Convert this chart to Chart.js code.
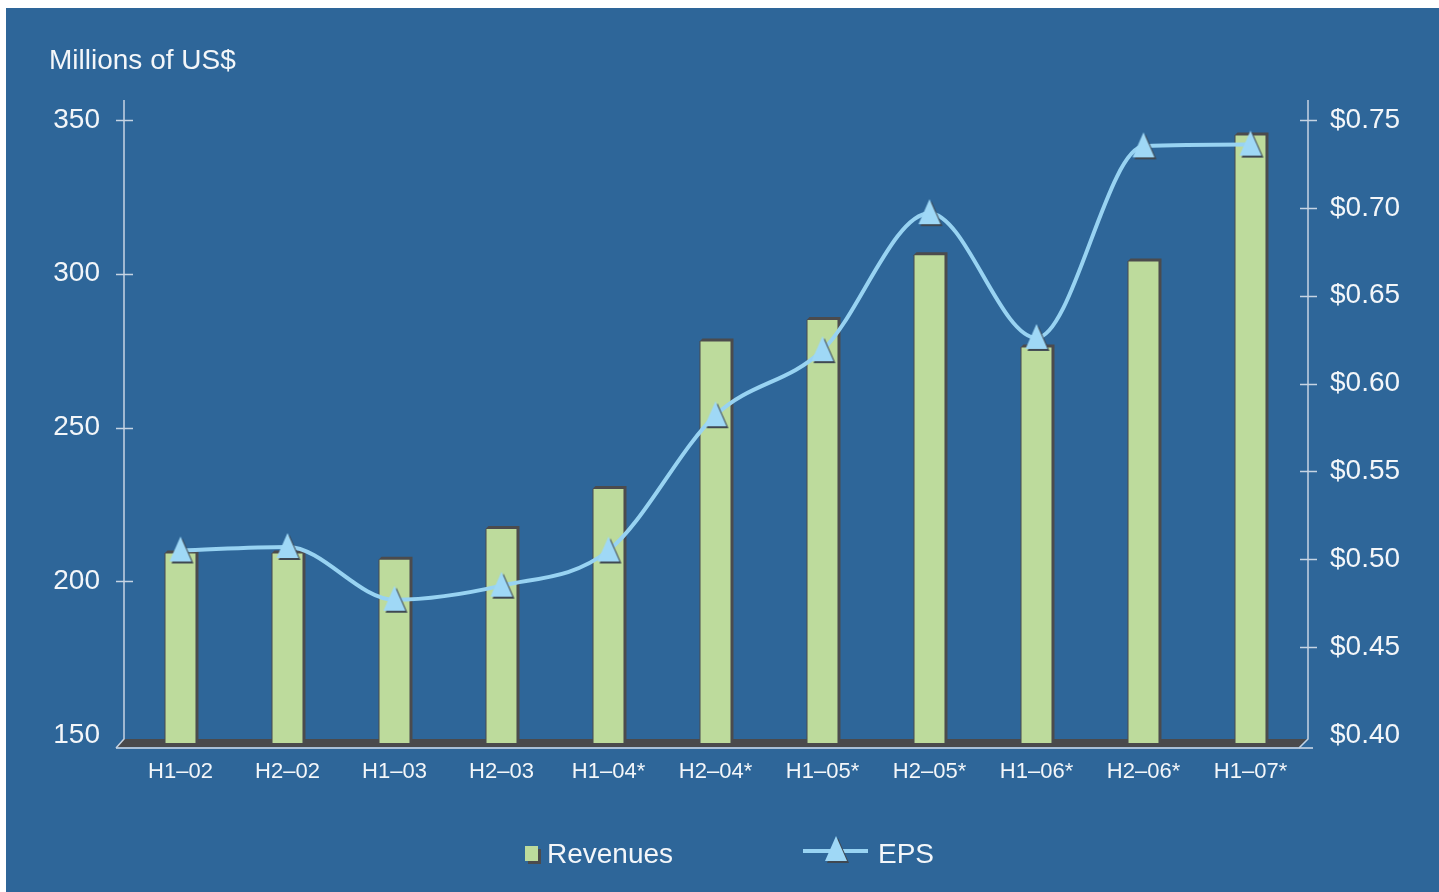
<!DOCTYPE html>
<html>
<head>
<meta charset="utf-8">
<script src="https://cdn.jsdelivr.net/npm/chart.js@4.4.1/dist/chart.umd.min.js"></script>
<style>
html,body{margin:0;padding:0;background:#fff;}
#wrap{width:1439px;height:892px;position:relative;}
canvas{display:block;}
</style>
</head>
<body>
<div id="wrap"><canvas id="c" width="1439" height="892"></canvas></div>
<script>
// ---- data ----
const categories = ['H1–02','H2–02','H1–03','H2–03','H1–04*','H2–04*','H1–05*','H2–05*','H1–06*','H2–06*','H1–07*'];
const revenues = [209, 209, 207, 217, 230, 278, 285, 306, 276, 304, 345];
const eps = [0.505, 0.507, 0.477, 0.485, 0.505, 0.582, 0.619, 0.697, 0.626, 0.735, 0.736];
const revenueTicks = [150, 200, 250, 300, 350];
const epsTicks = [0.40, 0.45, 0.50, 0.55, 0.60, 0.65, 0.70, 0.75];
const axisTitle = 'Millions of US$';

// ---- styles ----
const BLUE = '#2e6699';
const GREEN = '#bddb9c';
const DARK = '#4b4b4d';
const LINE = '#98d3f2';
const TRI = '#9fd8f6';
const TEXT = '#f3f6f9';
const FONT = '"Liberation Sans", Arial, Helvetica, sans-serif';
const FLOOR_FRAC = 8 / 615; // floor depth below the lowest tick, as fraction of tick span

function makeTri() {
  const c = document.createElement('canvas');
  c.width = 32; c.height = 34;
  const g = c.getContext('2d');
  const tri = (dx, dy, col) => {
    g.fillStyle = col;
    g.beginPath();
    g.moveTo(16 + dx, 3 + dy);
    g.lineTo(27 + dx, 28 + dy);
    g.lineTo(5 + dx, 28 + dy);
    g.closePath();
    g.fill();
  };
  tri(2, 2, '#3f4852');
  tri(0, 0, TRI);
  return c;
}
const triImg = makeTri();

const bgPlugin = {
  id: 'bg',
  beforeDraw(chart) {
    const {ctx, width, height} = chart;
    ctx.save();
    ctx.fillStyle = '#ffffff';
    ctx.fillRect(0, 0, width, height);
    ctx.fillStyle = BLUE;
    ctx.fillRect(6, 8, width - 6, height - 8);
    ctx.restore();
  }
};

const framePlugin = {
  id: 'frame',
  beforeDatasetsDraw(chart) {
    const {ctx, chartArea: a, scales} = chart;
    const L = a.left - 3, R = a.right + 4, B = a.bottom, T = a.top - 20;
    ctx.save();
    // floor
    ctx.fillStyle = '#4a4a4c';
    ctx.beginPath();
    ctx.moveTo(L, B - 4);
    ctx.lineTo(R - 1, B - 4);
    ctx.lineTo(R - 9, B + 4);
    ctx.lineTo(L - 8, B + 4);
    ctx.closePath();
    ctx.fill();
    // baseline
    ctx.strokeStyle = '#a9c0d8';
    ctx.lineWidth = 2;
    ctx.beginPath();
    ctx.moveTo(L - 8, B + 5);
    ctx.lineTo(R + 5, B + 5);
    ctx.stroke();
    // axis lines
    ctx.strokeStyle = '#c6d4e3';
    ctx.lineWidth = 1.5;
    ctx.beginPath();
    ctx.moveTo(L, T); ctx.lineTo(L, B - 4); ctx.lineTo(L - 8, B + 5);
    ctx.moveTo(R, T); ctx.lineTo(R, B - 4); ctx.lineTo(R - 9, B + 5);
    ctx.stroke();
    // tick crosses
    ctx.beginPath();
    const yl = scales.y, yr = scales.y1;
    yl.ticks.forEach((t, i) => {
      if (i === 0) return;
      const p = Math.round(yl.getPixelForValue(t.value)) + 0.5;
      ctx.moveTo(L - 8, p); ctx.lineTo(L + 9, p);
    });
    yr.ticks.forEach((t, i) => {
      if (i === 0) return;
      const p = Math.round(yr.getPixelForValue(t.value)) + 0.5;
      ctx.moveTo(R - 8, p); ctx.lineTo(R + 9, p);
    });
    ctx.stroke();
    ctx.restore();
  }
};

const depthPlugin = {
  id: 'depth',
  beforeDatasetDraw(chart, args) {
    if (args.meta.type !== 'bar') return;
    const ctx = chart.ctx;
    const bottom = chart.chartArea.bottom;
    ctx.save();
    ctx.fillStyle = DARK;
    args.meta.data.forEach(el => {
      const l = el.x - el.width / 2, r = el.x + el.width / 2, t = el.y;
      const b = Math.min(el.base, bottom);
      ctx.beginPath();
      ctx.moveTo(l - 1, t);
      ctx.lineTo(l + 2, t - 3);
      ctx.lineTo(r + 3, t - 3);
      ctx.lineTo(r + 3, b);
      ctx.lineTo(l - 1, b);
      ctx.closePath();
      ctx.fill();
    });
    ctx.restore();
  }
};

const legendPlugin = {
  id: 'customLegend',
  afterDraw(chart) {
    const ctx = chart.ctx;
    const ds = chart.data.datasets;
    const bar = ds.find(d => d.type === 'bar');
    const line = ds.find(d => d.type === 'line');
    ctx.save();
    ctx.font = '28px ' + FONT;
    ctx.textBaseline = 'alphabetic';
    ctx.textAlign = 'left';
    // Revenues
    ctx.fillStyle = DARK;
    ctx.fillRect(528, 849, 13, 15);
    ctx.fillStyle = GREEN;
    ctx.fillRect(525, 846, 13, 15);
    ctx.fillStyle = TEXT;
    ctx.fillText(bar.label, 547, 863);
    // EPS
    ctx.strokeStyle = LINE;
    ctx.lineWidth = 4;
    ctx.beginPath();
    ctx.moveTo(803, 851); ctx.lineTo(868, 851);
    ctx.stroke();
    ctx.drawImage(triImg, 836 - triImg.width / 2, 850 - triImg.height / 2);
    ctx.fillStyle = TEXT;
    ctx.fillText(line.label, 878, 863);
    ctx.restore();
  }
};

const revMin = revenueTicks[0] - (revenueTicks[revenueTicks.length - 1] - revenueTicks[0]) * FLOOR_FRAC;
const epsMin = epsTicks[0] - (epsTicks[epsTicks.length - 1] - epsTicks[0]) * FLOOR_FRAC;

new Chart(document.getElementById('c'), {
  data: {
    labels: categories,
    datasets: [
      {
        type: 'line',
        label: 'EPS',
        data: eps,
        yAxisID: 'y1',
        order: 0,
        borderColor: LINE,
        borderWidth: 4,
        cubicInterpolationMode: 'monotone',
        fill: false,
        pointStyle: triImg,
        pointRadius: 12,
        pointHoverRadius: 12
      },
      {
        type: 'bar',
        label: 'Revenues',
        data: revenues,
        yAxisID: 'y',
        order: 1,
        backgroundColor: GREEN,
        borderWidth: 0,
        barPercentage: 0.28,
        categoryPercentage: 1.0
      }
    ]
  },
  options: {
    responsive: false,
    animation: false,
    layout: { padding: { left: 49, right: 0, top: 0, bottom: 0 } },
    plugins: {
      legend: { display: false },
      tooltip: { enabled: false },
      title: {
        display: true,
        text: axisTitle,
        align: 'start',
        color: TEXT,
        font: { family: FONT, size: 28, weight: 'normal' },
        padding: { top: 44, bottom: 42.4 }
      }
    },
    scales: {
      x: {
        type: 'category',
        offset: true,
        grid: { display: false, drawTicks: false },
        border: { display: false },
        ticks: { color: TEXT, font: { family: FONT, size: 22 }, padding: 16, maxRotation: 0, autoSkip: false },
        afterFit(s) { s.height = 149; }
      },
      y: {
        type: 'linear',
        position: 'left',
        min: revMin,
        max: revenueTicks[revenueTicks.length - 1],
        grid: { display: false, drawTicks: false },
        border: { display: false },
        ticks: { color: TEXT, font: { family: FONT, size: 28 }, padding: 27 },
        afterBuildTicks(s) { s.ticks = revenueTicks.map(v => ({ value: v })); },
        afterFit(s) { s.width = 78; }
      },
      y1: {
        type: 'linear',
        position: 'right',
        min: epsMin,
        max: epsTicks[epsTicks.length - 1],
        grid: { display: false, drawTicks: false },
        border: { display: false },
        ticks: {
          color: TEXT, font: { family: FONT, size: 28 }, padding: 26,
          callback: v => '$' + Number(v).toFixed(2)
        },
        afterBuildTicks(s) { s.ticks = epsTicks.map(v => ({ value: v })); },
        afterFit(s) { s.width = 135; }
      }
    }
  },
  plugins: [bgPlugin, framePlugin, depthPlugin, legendPlugin]
});
</script>
</body>
</html>
